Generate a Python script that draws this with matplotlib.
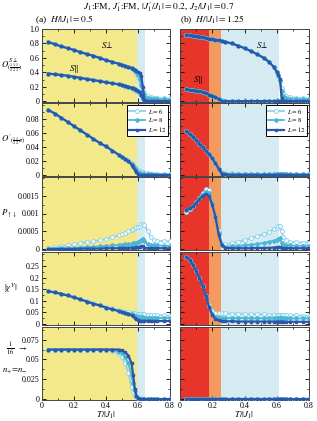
import matplotlib
matplotlib.use('Agg')
import matplotlib.pyplot as plt
from matplotlib.ticker import FixedLocator, MultipleLocator, FixedFormatter

plt.rcParams['font.family'] = ['Liberation Serif', 'DejaVu Serif']
plt.rcParams['mathtext.fontset'] = 'stix'

# ---------------- data: panel (a) H/|J1| = 0.5 ----------------
T_a = [0.04, 0.08, 0.12, 0.16, 0.20, 0.24, 0.28, 0.32, 0.36, 0.40, 0.44, 0.48, 0.50, 0.52, 0.54,
       0.56, 0.57, 0.58, 0.59, 0.60, 0.61, 0.62, 0.63, 0.64, 0.66, 0.68, 0.70, 0.72, 0.76, 0.80]

Sperp_a_L6 = [0.82, 0.79, 0.76, 0.735, 0.71, 0.68, 0.655, 0.63, 0.60, 0.57, 0.545, 0.52, 0.505, 0.49, 0.475,
              0.455, 0.44, 0.42, 0.385, 0.34, 0.28, 0.21, 0.15, 0.11, 0.075, 0.06, 0.052, 0.047, 0.042, 0.038]
Sperp_a_L8 = [0.82, 0.79, 0.76, 0.735, 0.71, 0.68, 0.655, 0.63, 0.60, 0.57, 0.545, 0.52, 0.505, 0.49, 0.475,
              0.46, 0.45, 0.435, 0.41, 0.37, 0.31, 0.22, 0.12, 0.07, 0.045, 0.038, 0.033, 0.03, 0.027, 0.025]
Sperp_a_L12 = [0.82, 0.79, 0.76, 0.735, 0.71, 0.68, 0.655, 0.63, 0.60, 0.57, 0.545, 0.52, 0.505, 0.49, 0.475,
               0.46, 0.45, 0.44, 0.425, 0.41, 0.39, 0.35, 0.20, 0.02, 0.005, 0.005, 0.005, 0.005, 0.005, 0.005]

Spar_a_L6 = [0.385, 0.375, 0.365, 0.355, 0.34, 0.325, 0.31, 0.295, 0.28, 0.265, 0.25, 0.235, 0.225, 0.215, 0.205,
             0.188, 0.178, 0.163, 0.148, 0.13, 0.11, 0.09, 0.072, 0.06, 0.05, 0.045, 0.041, 0.039, 0.036, 0.034]
Spar_a_L8 = [0.385, 0.375, 0.365, 0.355, 0.34, 0.325, 0.31, 0.295, 0.28, 0.265, 0.25, 0.235, 0.225, 0.215, 0.205,
             0.19, 0.18, 0.168, 0.155, 0.14, 0.12, 0.09, 0.06, 0.045, 0.035, 0.03, 0.028, 0.026, 0.024, 0.022]
Spar_a_L12 = [0.385, 0.375, 0.365, 0.355, 0.34, 0.325, 0.31, 0.295, 0.28, 0.265, 0.25, 0.235, 0.225, 0.215, 0.205,
              0.19, 0.18, 0.17, 0.16, 0.15, 0.13, 0.09, 0.03, 0.008, 0.004, 0.004, 0.004, 0.004, 0.004, 0.004]

Op_a_L6 = [0.093, 0.088, 0.082, 0.076, 0.070, 0.064, 0.058, 0.052, 0.046, 0.041, 0.035, 0.029, 0.026, 0.023, 0.021,
           0.017, 0.015, 0.012, 0.0095, 0.0075, 0.0058, 0.0047, 0.0038, 0.0032, 0.0025, 0.0021, 0.0019, 0.0018, 0.0016, 0.0015]
Op_a_L8 = [0.093, 0.088, 0.082, 0.076, 0.070, 0.064, 0.058, 0.052, 0.046, 0.041, 0.035, 0.029, 0.026, 0.023, 0.020,
           0.016, 0.013, 0.010, 0.007, 0.0045, 0.003, 0.0022, 0.0017, 0.0014, 0.0011, 0.001, 0.0009, 0.0009, 0.0008, 0.0008]
Op_a_L12 = [0.093, 0.088, 0.082, 0.076, 0.070, 0.064, 0.058, 0.052, 0.046, 0.041, 0.035, 0.029, 0.026, 0.023, 0.020,
            0.015, 0.012, 0.008, 0.004, 0.0012, 0.0005, 0.0004, 0.0004, 0.0004, 0.0004, 0.0004, 0.0004, 0.0004, 0.0004, 0.0004]

P_a_L6 = [0.00003, 0.00005, 0.00007, 0.0001, 0.00013, 0.00016, 0.00019, 0.00021, 0.00024, 0.00028, 0.00033, 0.00039,
          0.00042, 0.00046, 0.0005, 0.00054, 0.00056, 0.00059, 0.00061, 0.00063, 0.00066, 0.00069, 0.00071, 0.00068,
          0.0005, 0.00033, 0.00026, 0.00023, 0.00022, 0.00021]
P_a_L8 = [0.00001, 0.00001, 0.00002, 0.00002, 0.00003, 0.00004, 0.00005, 0.00006, 0.00007, 0.00008, 0.0001, 0.00011,
          0.00012, 0.00013, 0.00014, 0.00015, 0.00016, 0.00017, 0.00018, 0.0002, 0.00022, 0.00025, 0.00027, 0.00022,
          0.00014, 0.00011, 0.0001, 0.0001, 0.00009, 0.00009]
P_a_L12 = [0.0, 0.0, 0.0, 0.0, 0.0, 0.00001, 0.00001, 0.00001, 0.00001, 0.00002, 0.00002, 0.00002, 0.00003, 0.00003,
           0.00003, 0.00004, 0.00004, 0.00004, 0.00005, 0.00005, 0.00006, 0.00007, 0.00008, 0.00004, 0.00002, 0.00002,
           0.00002, 0.00002, 0.00002, 0.00002]

Chi_a_L6 = [0.142, 0.137, 0.131, 0.124, 0.116, 0.107, 0.098, 0.09, 0.082, 0.074, 0.067, 0.06, 0.056, 0.053, 0.05,
            0.048, 0.047, 0.046, 0.045, 0.044, 0.043, 0.043, 0.042, 0.042, 0.041, 0.040, 0.039, 0.038, 0.037, 0.036]
Chi_a_L8 = [0.141, 0.136, 0.13, 0.123, 0.115, 0.106, 0.097, 0.088, 0.08, 0.071, 0.063, 0.056, 0.052, 0.049, 0.045,
            0.042, 0.039, 0.036, 0.033, 0.031, 0.030, 0.029, 0.029, 0.028, 0.028, 0.027, 0.027, 0.027, 0.026, 0.026]
Chi_a_L12 = [0.141, 0.136, 0.13, 0.123, 0.115, 0.106, 0.097, 0.088, 0.08, 0.071, 0.063, 0.056, 0.052, 0.049, 0.045,
             0.038, 0.033, 0.027, 0.021, 0.017, 0.015, 0.014, 0.014, 0.014, 0.014, 0.014, 0.013, 0.013, 0.013, 0.013]

N_a_L6 = [0.0625, 0.0625, 0.0625, 0.0625, 0.0625, 0.0625, 0.0625, 0.0625, 0.0625, 0.0622, 0.061, 0.057, 0.053, 0.045,
          0.033, 0.015, 0.009, 0.005, 0.002, 0.001, 0.0, 0.0, 0.0, 0.0, 0.0, 0.0, 0.0, 0.0, 0.0, 0.0]
N_a_L8 = [0.0625, 0.0625, 0.0625, 0.0625, 0.0625, 0.0625, 0.0625, 0.0625, 0.0625, 0.0625, 0.062, 0.06, 0.058, 0.053,
          0.045, 0.03, 0.02, 0.01, 0.004, 0.001, 0.0, 0.0, 0.0, 0.0, 0.0, 0.0, 0.0, 0.0, 0.0, 0.0]
N_a_L12 = [0.0625, 0.0625, 0.0625, 0.0625, 0.0625, 0.0625, 0.0625, 0.0625, 0.0625, 0.0625, 0.0625, 0.0625, 0.0615,
           0.059, 0.055, 0.045, 0.03, 0.013, 0.004, 0.001, 0.0, 0.0, 0.0, 0.0, 0.0, 0.0, 0.0, 0.0, 0.0, 0.0]

# ---------------- data: panel (b) H/|J1| = 1.25 ----------------
T_b = [0.04, 0.06, 0.08, 0.10, 0.12, 0.14, 0.16, 0.18, 0.20, 0.22, 0.24, 0.26, 0.28, 0.32, 0.36, 0.40,
       0.44, 0.48, 0.52, 0.55, 0.58, 0.60, 0.61, 0.62, 0.63, 0.64, 0.66, 0.68, 0.72, 0.76, 0.80]

Sperp_b_L6 = [0.92, 0.915, 0.91, 0.905, 0.895, 0.885, 0.875, 0.865, 0.86, 0.85, 0.845, 0.835, 0.825, 0.80, 0.77,
              0.735, 0.695, 0.65, 0.60, 0.55, 0.48, 0.40, 0.35, 0.28, 0.18, 0.12, 0.08, 0.06, 0.05, 0.045, 0.04]
Sperp_b_L8 = [0.92, 0.915, 0.91, 0.905, 0.895, 0.885, 0.875, 0.865, 0.86, 0.85, 0.845, 0.835, 0.825, 0.80, 0.77,
              0.735, 0.695, 0.65, 0.60, 0.55, 0.48, 0.41, 0.37, 0.30, 0.15, 0.08, 0.05, 0.04, 0.035, 0.03, 0.03]
Sperp_b_L12 = [0.92, 0.915, 0.91, 0.905, 0.895, 0.885, 0.875, 0.865, 0.86, 0.85, 0.845, 0.835, 0.825, 0.80, 0.77,
               0.735, 0.695, 0.65, 0.60, 0.55, 0.48, 0.41, 0.37, 0.31, 0.05, 0.01, 0.005, 0.005, 0.005, 0.005, 0.005]

Spar_b_L6 = [0.165, 0.16, 0.155, 0.15, 0.14, 0.13, 0.115, 0.095, 0.08, 0.06, 0.04, 0.02, 0.012, 0.009, 0.008,
             0.008, 0.008, 0.008, 0.008, 0.008, 0.008, 0.008, 0.008, 0.008, 0.008, 0.008, 0.008, 0.008, 0.008, 0.008, 0.008]
Spar_b_L8 = [0.165, 0.16, 0.155, 0.15, 0.14, 0.13, 0.115, 0.095, 0.08, 0.06, 0.035, 0.012, 0.007, 0.005, 0.005,
             0.005, 0.005, 0.005, 0.005, 0.005, 0.005, 0.005, 0.005, 0.005, 0.005, 0.005, 0.005, 0.005, 0.005, 0.005, 0.005]
Spar_b_L12 = [0.165, 0.16, 0.155, 0.15, 0.14, 0.13, 0.115, 0.095, 0.08, 0.06, 0.03, 0.005, 0.003, 0.003, 0.003,
              0.003, 0.003, 0.003, 0.003, 0.003, 0.003, 0.003, 0.003, 0.003, 0.003, 0.003, 0.003, 0.003, 0.003, 0.003, 0.003]

Op_b_L6 = [0.063, 0.059, 0.055, 0.050, 0.045, 0.040, 0.035, 0.030, 0.024, 0.017, 0.0095, 0.004, 0.003, 0.0025,
           0.0022, 0.002, 0.002, 0.0019, 0.0018, 0.0018, 0.0017, 0.0017, 0.0016, 0.0016, 0.0016, 0.0016, 0.0015,
           0.0015, 0.0015, 0.0015, 0.0015]
Op_b_L8 = [0.063, 0.059, 0.055, 0.050, 0.045, 0.040, 0.035, 0.030, 0.024, 0.017, 0.009, 0.003, 0.002, 0.0015,
           0.0013, 0.0012, 0.0012, 0.0011, 0.0011, 0.0011, 0.001, 0.001, 0.001, 0.001, 0.001, 0.001, 0.001, 0.001,
           0.001, 0.001, 0.001]
Op_b_L12 = [0.063, 0.059, 0.055, 0.050, 0.045, 0.040, 0.035, 0.030, 0.024, 0.017, 0.009, 0.002, 0.001, 0.0005,
            0.0005, 0.0005, 0.0005, 0.0005, 0.0005, 0.0005, 0.0005, 0.0005, 0.0005, 0.0005, 0.0005, 0.0005, 0.0005,
            0.0005, 0.0005, 0.0005, 0.0005]

P_b_L6 = [0.00105, 0.00112, 0.0012, 0.00132, 0.00145, 0.00157, 0.00168, 0.00165, 0.0013, 0.0009, 0.0005, 0.00015,
          0.00013, 0.00016, 0.0002, 0.00025, 0.0003, 0.00036, 0.00042, 0.00048, 0.00055, 0.0006, 0.00064, 0.00066,
          0.0005, 0.00035, 0.00025, 0.0002, 0.00019, 0.00018, 0.00018]
P_b_L8 = [0.0011, 0.00116, 0.00122, 0.00132, 0.00143, 0.00153, 0.00162, 0.00158, 0.0013, 0.0009, 0.00045, 0.00012,
          0.00006, 0.00007, 0.00008, 0.0001, 0.00012, 0.00014, 0.00017, 0.0002, 0.00023, 0.00026, 0.00028, 0.0003,
          0.00018, 0.00012, 0.0001, 0.0001, 0.00009, 0.00009, 0.00009]
P_b_L12 = [0.0011, 0.00115, 0.0012, 0.0013, 0.0014, 0.0015, 0.00155, 0.0015, 0.00125, 0.0009, 0.0004, 0.0001,
           0.00003, 0.00002, 0.00002, 0.00002, 0.00002, 0.00003, 0.00003, 0.00003, 0.00004, 0.00005, 0.00005,
           0.00006, 0.00003, 0.00002, 0.00002, 0.00002, 0.00002, 0.00002, 0.00002]

Chi_b_L6 = [0.29, 0.275, 0.255, 0.23, 0.20, 0.165, 0.122, 0.08, 0.055, 0.047, 0.046, 0.046, 0.046, 0.045, 0.045,
            0.044, 0.043, 0.043, 0.042, 0.041, 0.041, 0.040, 0.040, 0.040, 0.039, 0.039, 0.038, 0.038, 0.037, 0.036, 0.036]
Chi_b_L8 = [0.29, 0.275, 0.255, 0.23, 0.20, 0.165, 0.12, 0.075, 0.045, 0.032, 0.028, 0.027, 0.026, 0.026, 0.026,
            0.026, 0.025, 0.025, 0.025, 0.025, 0.025, 0.025, 0.025, 0.025, 0.024, 0.024, 0.024, 0.024, 0.024, 0.024, 0.024]
Chi_b_L12 = [0.29, 0.275, 0.255, 0.23, 0.20, 0.165, 0.12, 0.075, 0.04, 0.022, 0.016, 0.013, 0.012, 0.012, 0.011,
             0.011, 0.011, 0.011, 0.011, 0.011, 0.011, 0.011, 0.011, 0.011, 0.011, 0.011, 0.01, 0.01, 0.01, 0.01, 0.01]

N_b_L6 = [0.0005, 0.0005, 0.0005, 0.0005, 0.0005, 0.0005, 0.0005, 0.0005, 0.0005, 0.0005, 0.0005, 0.0005, 0.0005,
          0.0005, 0.0005, 0.0005, 0.0005, 0.0005, 0.0005, 0.0005, 0.0005, 0.0005, 0.0005, 0.0005, 0.0005, 0.0005,
          0.0005, 0.0005, 0.0005, 0.0005, 0.0005]
N_b_L8 = [0.0002, 0.0002, 0.0002, 0.0002, 0.0002, 0.0002, 0.0002, 0.0002, 0.0002, 0.0002, 0.0002, 0.0002, 0.0002,
          0.0002, 0.0002, 0.0002, 0.0002, 0.0002, 0.0002, 0.0002, 0.0002, 0.0002, 0.0002, 0.0002, 0.0002, 0.0002,
          0.0002, 0.0002, 0.0002, 0.0002, 0.0002]
N_b_L12 = [0.0, 0.0, 0.0, 0.0, 0.0, 0.0, 0.0, 0.0, 0.0, 0.0, 0.0, 0.0, 0.0, 0.0, 0.0, 0.0, 0.0, 0.0, 0.0, 0.0, 0.0,
           0.0, 0.0, 0.0, 0.0, 0.0, 0.0, 0.0, 0.0, 0.0, 0.0]

series_labels = [r"$L=6$", r"$L=8$", r"$L=12$"]
x_ticks = [0, 0.2, 0.4, 0.6, 0.8]
x_ticklabels = ["0", "0.2", "0.4", "0.6", "0.8"]

row_ylabels = [r"$O^{S\perp}_{(\frac{1}{2}\frac{1}{2}\frac{1}{2})}$",
               r"$O'_{(\frac{1}{2}\frac{1}{2}\pi)}$",
               r"$P_{\uparrow\downarrow}$",
               r"$|\chi^{V}|$",
               r"$n_{+}\!=\!n_{-}$"]
row_yticks = [[0, 0.2, 0.4, 0.6, 0.8, 1.0],
              [0, 0.02, 0.04, 0.06, 0.08],
              [0, 0.0005, 0.001, 0.0015],
              [0, 0.05, 0.1, 0.15, 0.2, 0.25],
              [0, 0.025, 0.05, 0.075]]
row_yticklabels = [["0", "0.2", "0.4", "0.6", "0.8", "1.0"],
                   ["0", "0.02", "0.04", "0.06", "0.08"],
                   ["0", "0.0005", "0.001", "0.0015"],
                   ["0", "0.05", "0.1", "0.15", "0.2", "0.25"],
                   ["0", "0.025", "0.05", "0.075"]]
row_ylim = [(-0.008, 1.0), (-0.0012, 0.103), (-0.00003, 0.00203), (-0.004, 0.31), (-0.0012, 0.091)]
row_minor = [0.1, 0.01, 0.00025, 0.025, 0.0125]

data = {
    'a': (T_a, [(Sperp_a_L6, Sperp_a_L8, Sperp_a_L12, Spar_a_L6, Spar_a_L8, Spar_a_L12),
                (Op_a_L6, Op_a_L8, Op_a_L12),
                (P_a_L6, P_a_L8, P_a_L12),
                (Chi_a_L6, Chi_a_L8, Chi_a_L12),
                (N_a_L6, N_a_L8, N_a_L12)]),
    'b': (T_b, [(Sperp_b_L6, Sperp_b_L8, Sperp_b_L12, Spar_b_L6, Spar_b_L8, Spar_b_L12),
                (Op_b_L6, Op_b_L8, Op_b_L12),
                (P_b_L6, P_b_L8, P_b_L12),
                (Chi_b_L6, Chi_b_L8, Chi_b_L12),
                (N_b_L6, N_b_L8, N_b_L12)]),
}

# ---------------- styling / layout ----------------
W, H = 317, 421
fig = plt.figure(figsize=(W / 100, H / 100), dpi=100)

c6, c8, c12 = '#8fd3ea', '#4cb6d6', '#2a57a8'
YELLOW, LBLUE, RED, ORANGE = '#f3e88a', '#d5eaf1', '#e8352b', '#f59a5e'

cols = {'a': (42, 170), 'b': (180, 309)}
row_tops = [29, 103, 177, 252, 327]
row_h = 73


def draw(ax, T, y6, y8, y12):
    ax.plot(T, y6, '-', color=c6, marker='o', ms=2.8, mfc='white', mec=c6, mew=0.7, lw=1.3,
            label=series_labels[0], zorder=3)
    ax.plot(T, y8, '-', color=c8, marker='D', ms=2.0, lw=1.3, label=series_labels[1], zorder=4)
    ax.plot(T, y12, '-', color=c12, marker='s', ms=1.8, lw=1.6, label=series_labels[2], zorder=5)


for key in ['a', 'b']:
    T, rows = data[key]
    x0, x1 = cols[key]
    for r in range(5):
        top = row_tops[r]
        ax = fig.add_axes([x0 / W, 1 - (top + row_h) / H, (x1 - x0) / W, row_h / H])
        if key == 'a':
            ax.axvspan(0, 0.595, color=YELLOW, lw=0, zorder=0)
            ax.axvspan(0.595, 0.645, color=LBLUE, lw=0, zorder=0)
        else:
            ax.axvspan(0, 0.18, color=RED, lw=0, zorder=0)
            ax.axvspan(0.18, 0.255, color=ORANGE, lw=0, zorder=0)
            ax.axvspan(0.255, 0.615, color=LBLUE, lw=0, zorder=0)
        vals = rows[r]
        if r == 0:
            draw(ax, T, vals[0], vals[1], vals[2])
            draw(ax, T, vals[3], vals[4], vals[5])
        else:
            draw(ax, T, vals[0], vals[1], vals[2])
        ax.set_xlim(0, 0.8)
        ax.set_ylim(*row_ylim[r])
        ax.xaxis.set_major_locator(FixedLocator(x_ticks))
        ax.xaxis.set_minor_locator(MultipleLocator(0.1))
        ax.yaxis.set_major_locator(FixedLocator(row_yticks[r]))
        ax.yaxis.set_minor_locator(MultipleLocator(row_minor[r]))
        ax.tick_params(which='both', direction='in', top=True, right=True, labelsize=5.8, pad=2)
        ax.tick_params(axis='x', pad=1.5)
        ax.tick_params(which='major', length=3, width=0.6)
        ax.tick_params(which='minor', length=1.5, width=0.5)
        for s in ax.spines.values():
            s.set_linewidth(0.7)
            s.set_color('#444444')
        if r == 4:
            ax.xaxis.set_major_formatter(FixedFormatter(x_ticklabels))
            ax.set_xlabel(r"$T/|J_1|$", fontsize=6.5, labelpad=-0.3)
        else:
            ax.tick_params(labelbottom=False)
        if key == 'a':
            ax.yaxis.set_major_formatter(FixedFormatter(row_yticklabels[r]))
            if r < 4:
                lx = {0: -0.24, 1: -0.225, 2: -0.26, 3: -0.24}[r]
                ax.set_ylabel(row_ylabels[r], rotation=0, fontsize=6.3, va='center', ha='center')
                ax.yaxis.set_label_coords(lx, 0.5)
            else:
                ax.text(-0.245, 0.70, r"$\frac{1}{16}$", transform=ax.transAxes,
                        fontsize=6.5, ha='center', va='center')
                ax.text(-0.155, 0.70, r"$\rightarrow$", transform=ax.transAxes,
                        fontsize=6, ha='center', va='center')
                ax.text(-0.215, 0.41, row_ylabels[r], transform=ax.transAxes,
                        fontsize=6.3, ha='center', va='center')
        else:
            ax.tick_params(labelleft=False)
        if r == 0:
            if key == 'a':
                ax.text(0.41, 0.78, r"$S\!\perp$", fontsize=6.5, ha='center', va='center', zorder=6)
                ax.text(0.2, 0.45, r"$S\!\parallel$", fontsize=6.5, ha='center', va='center', zorder=6)
            else:
                ax.text(0.51, 0.78, r"$S\!\perp$", fontsize=6.5, ha='center', va='center', zorder=6)
                ax.text(0.11, 0.29, r"$S\!\parallel$", fontsize=6.5, ha='center', va='center', zorder=6)
        if r == 1:
            leg = ax.legend(loc='upper right', fontsize=4.8, frameon=True, fancybox=False,
                            edgecolor='black', framealpha=1, handlelength=2.4, borderpad=0.3,
                            labelspacing=0.1, handletextpad=0.4, borderaxespad=0.25)
            leg.get_frame().set_linewidth(0.7)

fig.text(0.5, 1 - 7 / H, r"$J_1$:FM, $J_1'$:FM, $|J_1'/J_1| = 0.2$, $J_2/|J_1| = 0.7$",
         ha='center', va='center', fontsize=6.8)
fig.text(35 / W, 1 - 20 / H, r"(a)  $H/|J_1| = 0.5$", ha='left', va='center', fontsize=6.8)
fig.text(180 / W, 1 - 20 / H, r"(b)  $H/|J_1| = 1.25$", ha='left', va='center', fontsize=6.8)

fig.savefig('out.png', dpi=100)
